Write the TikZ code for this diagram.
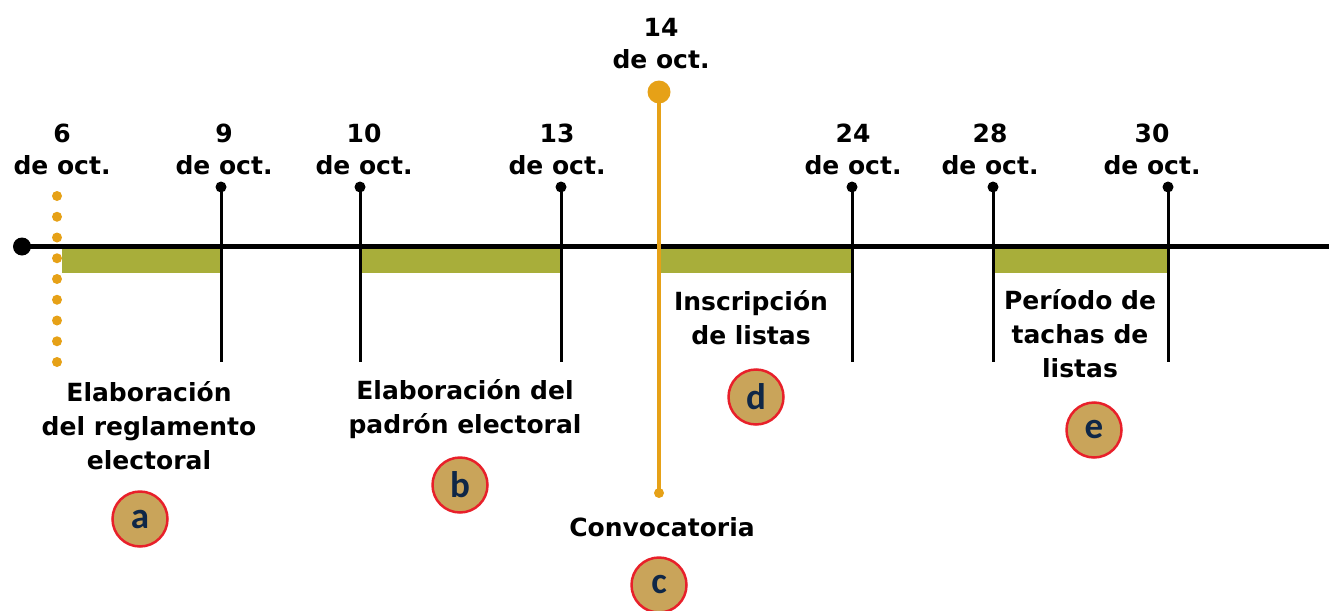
\documentclass[tikz,border=0pt]{standalone}
\usepackage{fontspec}
\setmainfont{DejaVu Sans}
\newfontfamily\letterfont{Carlito}
\definecolor{barg}{HTML}{A8AE3A}
\definecolor{orng}{HTML}{E6A117}
\definecolor{circf}{HTML}{C9A45A}
\definecolor{circr}{HTML}{E8202A}
\definecolor{navy}{HTML}{0F2747}
\tikzset{
  datelbl/.style={font=\fontsize{25}{32}\selectfont\bfseries, align=center, inner sep=0pt},
  desclbl/.style={font=\fontsize{25}{34}\selectfont\bfseries, align=center, inner sep=0pt},
  tick/.style={line width=3pt, black},
  bar/.style={fill=barg, draw=none},
  letter/.style={circle, fill=circf, draw=circr, line width=2.5pt, minimum size=55pt, inner sep=0pt, text=navy, font=\fontsize{37}{37}\selectfont\letterfont\bfseries},
  odot/.style={circle, fill=orng, inner sep=0pt, minimum size=10pt}
}
\begin{document}
\begin{tikzpicture}[x=1pt,y=-1pt]
\useasboundingbox (0,0) rectangle (1329,610);
% bars
\fill[bar] (62,249) rectangle (221,273);
\fill[bar] (360,249) rectangle (561,273);
\fill[bar] (660,249) rectangle (852,273);
\fill[bar] (993,249) rectangle (1168,273);
% axis
\coordinate (axs) at (22,246.5);
\coordinate (axe) at (1329,246.5);
\draw[line width=5pt] (axs) -- (axe);
\fill (axs) circle (9pt);
% ticks
\foreach \n/\x in {t9/221,t10/360,t13/561,t24/852,t28/993,t30/1168}{
  \coordinate (\n top) at (\x,187);
  \coordinate (\n bot) at (\x,362);
  \draw[tick] (\n top) -- (\n bot);
  \fill (\n top) circle (5.5pt);
}
% orange dotted
\foreach \i in {0,...,8}{
  \node[odot] (od\i) at (57,196+20.75*\i) {};
}
% orange convocatoria line
\coordinate (cvtop) at (659,92);
\coordinate (cvbot) at (659,493);
\draw[orng, line width=4.5pt] (cvtop) -- (cvbot);
\fill[orng] (cvtop) circle (11.5pt);
\fill[orng] (cvbot) circle (5pt);
% date labels
\node[datelbl] (d6) at (62,149) {6\\de oct.};
\node[datelbl] (d9) at (224,149) {9\\de oct.};
\node[datelbl] (d10) at (364,149) {10\\de oct.};
\node[datelbl] (d13) at (557,149) {13\\de oct.};
\node[datelbl] (d14) at (661,44) {14\\de oct.};
\node[datelbl] (d24) at (853,149) {24\\de oct.};
\node[datelbl] (d28) at (990,149) {28\\de oct.};
\node[datelbl] (d30) at (1152,149) {30\\de oct.};
% descriptions
\node[desclbl] (la) at (149,426) {Elaboración\\del reglamento\\electoral};
\node[desclbl] (lb) at (465,409) {Elaboración del\\padrón electoral};
\node[desclbl] (ld) at (751,318) {Inscripción\\de listas};
\node[desclbl] (le) at (1080,334) {Período de\\tachas de\\listas};
\node[desclbl] (lc) at (662,527) {Convocatoria};
% circles
\node[letter] (ca) at (140,519) {a};
\node[letter] (cb) at (460,485) {b};
\node[letter] (cc) at (659,585) {c};
\node[letter] (cd) at (756,397) {d};
\node[letter] (ce) at (1094,430) {e};
\end{tikzpicture}
\end{document}
